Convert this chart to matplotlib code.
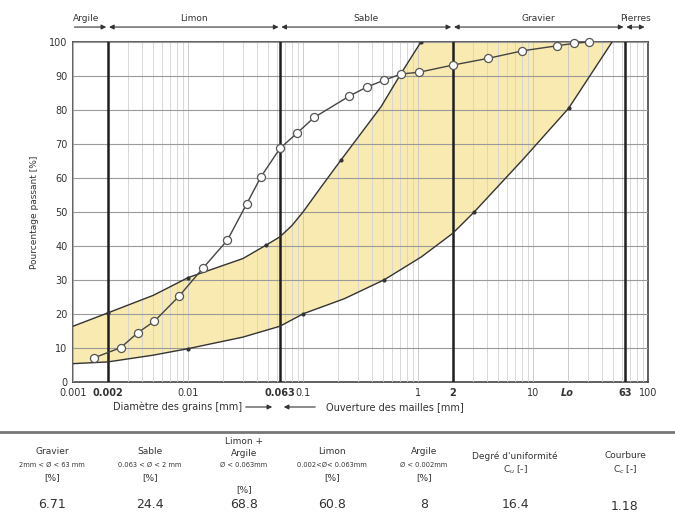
import matplotlib
matplotlib.use("Agg")
import matplotlib.pyplot as plt
from matplotlib.transforms import blended_transform_factory
from matplotlib.ticker import LogLocator
import numpy as np

# ---------------- data ----------------
sample_d = [0.00152, 0.0026, 0.00366, 0.00511, 0.00834, 0.0135, 0.022, 0.0323,
            0.043, 0.063, 0.088, 0.125, 0.253, 0.361, 0.511, 0.714, 1.02, 2.0,
            4.08, 8.09, 16.3, 22.7, 30.5]
sample_p = [7.1, 10.1, 14.5, 17.9, 25.2, 33.5, 41.7, 52.3, 60.3, 68.7, 73.1,
            77.8, 84.1, 86.8, 88.8, 90.6, 91.1, 93.2, 95.2, 97.4, 98.9, 99.6, 100]

upper_d = [0.001, 0.002, 0.005, 0.01, 0.03, 0.048, 0.063, 0.08, 0.1, 0.144,
           0.214, 0.478, 0.714, 1.06]
upper_p = [16.4, 20.3, 25.5, 30.7, 36.3, 40.3, 42.7, 46.0, 50.0, 57.4, 65.3,
           81.0, 90.8, 100]
upper_mark_d = [0.002, 0.01, 0.048, 0.214, 1.06]
upper_mark_p = [20.3, 30.7, 40.3, 65.3, 100]

lower_d = [0.001, 0.002, 0.005, 0.01, 0.03, 0.063, 0.101, 0.229, 0.511, 1.07,
           2.0, 3.08, 8.15, 20.4, 48.7]
lower_p = [5.4, 5.9, 7.9, 9.8, 13.2, 16.4, 20.1, 24.5, 30.1, 36.8, 43.7, 50.0,
           65.4, 80.5, 100]
lower_mark_d = [0.01, 0.101, 0.511, 3.08, 20.4]
lower_mark_p = [9.8, 20.1, 30.1, 50.0, 80.5]

limits = [0.002, 0.063, 2, 63]
tick_vals = [0.001, 0.002, 0.01, 0.063, 0.1, 1, 2, 10, 20, 63, 100]
tick_labels = ["0.001", "0.002", "0.01", "0.063", "0.1", "1", "2", "10", "Lo", "63", "100"]
bold_ticks = ["0.002", "0.063", "2", "63", "Lo"]

bands = ["Argile", "Limon", "Sable", "Gravier", "Pierres"]
band_edges = [0.001, 0.002, 0.063, 2, 63, 96]

col_head = ["Gravier", "Sable", "Limon +\nArgile", "Limon", "Argile",
            "Degré d'uniformité", "Courbure"]
col_sub = ["2mm < Ø < 63 mm", "0.063 < Ø < 2 mm", "Ø < 0.063mm",
           "0.002<Ø< 0.063mm", "Ø < 0.002mm", "C$_u$ [-]", "C$_c$ [-]"]
col_vals = ["6.71", "24.4", "68.8", "60.8", "8", "16.4", "1.18"]

# ---------------- figure ----------------
W, H = 675, 514
fig = plt.figure(figsize=(W / 100, H / 100), dpi=100)
fig.patch.set_facecolor("white")

def fx(px):
    return px / W

def fy(py):
    return 1 - py / H

TXT = "#333333"

ax = fig.add_axes([fx(73), fy(382), fx(648) - fx(73), fy(42) - fy(382)])
ax.set_xscale("log")
ax.set_xlim(0.001, 100)
ax.set_ylim(0, 100)

# band fill
poly_x = list(upper_d) + [lower_d[-1]] + list(lower_d[::-1])
poly_y = list(upper_p) + [lower_p[-1]] + list(lower_p[::-1])
ax.fill(poly_x, poly_y, color="#f8e8a8", alpha=0.9, zorder=1, lw=0)

# grid
ax.set_yticks(np.arange(0, 101, 10))
ax.grid(True, which="major", axis="y", color="#9a9a9a", lw=0.8, zorder=2)
ax.grid(True, which="major", axis="x", color="#c4c4c4", lw=0.6, zorder=2)
ax.set_axisbelow(False)

for d in limits:
    ax.axvline(d, color="#1e1e1e", lw=1.8, zorder=4)

# envelope curves
ax.plot(upper_d, upper_p, color="#333333", lw=1.0, zorder=5)
ax.plot(lower_d, lower_p, color="#333333", lw=1.0, zorder=5)
ax.plot(upper_mark_d, upper_mark_p, "o", color="#333333", ms=2, zorder=5)
ax.plot(lower_mark_d, lower_mark_p, "o", color="#333333", ms=2, zorder=5)

# sample curve
ax.plot(sample_d, sample_p, color="#444444", lw=1.0, marker="o", ms=5.8,
        mfc="white", mec="#555555", mew=0.9, zorder=6, clip_on=False)

# axes styling
for s in ax.spines.values():
    s.set_color("#444444")
    s.set_linewidth(1.2)
ax.tick_params(axis="both", which="both", length=0, labelsize=7,
               labelcolor=TXT, pad=4)
ax.set_xticks(tick_vals)
ax.set_xticklabels(tick_labels)
for lab in ax.get_xticklabels():
    if lab.get_text() in bold_ticks:
        lab.set_fontweight("bold")
    if lab.get_text() == "Lo":
        lab.set_fontstyle("italic")
ax.xaxis.set_minor_locator(LogLocator(base=10, subs=np.arange(2, 10)))
ax.tick_params(axis="x", which="minor", length=0, labelbottom=False)
ax.grid(True, which="minor", axis="x", color="#d2d2d2", lw=0.6, zorder=2)

ax.set_ylabel("Pourcentage passant [%]", fontsize=6.5, color=TXT, labelpad=7)

# top classification arrows
tr = blended_transform_factory(ax.transData, ax.transAxes)
ya = 1.044
for i, name in enumerate(bands):
    a, b = band_edges[i], band_edges[i + 1]
    style = "-|>" if i == 0 else "<|-|>"
    ax.annotate("", xy=(b, ya), xytext=(a, ya), xycoords=tr, textcoords=tr,
                arrowprops=dict(arrowstyle=style, color="#333333", lw=0.8,
                                mutation_scale=7, shrinkA=1, shrinkB=1),
                annotation_clip=False)
    xm = 10 ** ((np.log10(a) + np.log10(b)) / 2)
    if i == 0:
        xm = 0.0013
    ax.text(xm, 1.07, name, transform=tr, ha="center", va="center",
            fontsize=6.5, color=TXT)

# x label with arrows
fig.text(fx(178), fy(407), "Diamètre des grains [mm]", ha="center", va="center",
         fontsize=7, color=TXT)
fig.text(fx(395), fy(407), "Ouverture des mailles [mm]", ha="center", va="center",
         fontsize=7, color=TXT)
fig.add_artist(matplotlib.patches.FancyArrowPatch(
    (fx(243), fy(407)), (fx(275), fy(407)), transform=fig.transFigure,
    arrowstyle="-|>", mutation_scale=7, color="#333333", lw=0.8))
fig.add_artist(matplotlib.patches.FancyArrowPatch(
    (fx(318), fy(407)), (fx(281), fy(407)), transform=fig.transFigure,
    arrowstyle="-|>", mutation_scale=7, color="#333333", lw=0.8))

# table separator
fig.add_artist(matplotlib.lines.Line2D([0, 1], [fy(432), fy(432)],
                                       transform=fig.transFigure,
                                       color="#777777", lw=2.0))

col_x = [52, 150, 244, 332, 424, 515, 625]
for i in range(7):
    x = fx(col_x[i])
    if i in (0, 1, 3, 4):
        fig.text(x, fy(452), col_head[i], ha="center", va="center", fontsize=6.5, color=TXT)
        fig.text(x, fy(465), col_sub[i], ha="center", va="center", fontsize=4.8, color=TXT)
        fig.text(x, fy(478), "[%]", ha="center", va="center", fontsize=6.5, color=TXT)
        fig.text(x, fy(504), col_vals[i], ha="center", va="center", fontsize=9, color=TXT)
    elif i == 2:
        fig.text(x, fy(441), "Limon +", ha="center", va="center", fontsize=6.5, color=TXT)
        fig.text(x, fy(453), "Argile", ha="center", va="center", fontsize=6.5, color=TXT)
        fig.text(x, fy(465), col_sub[i], ha="center", va="center", fontsize=4.8, color=TXT)
        fig.text(x, fy(490), "[%]", ha="center", va="center", fontsize=6.5, color=TXT)
        fig.text(x, fy(504), col_vals[i], ha="center", va="center", fontsize=9, color=TXT)
    else:
        fig.text(x, fy(456), col_head[i], ha="center", va="center", fontsize=6.5, color=TXT)
        fig.text(x, fy(470), col_sub[i], ha="center", va="center", fontsize=6.5, color=TXT)
        yv = 504 if i == 5 else 507
        fig.text(x, fy(yv), col_vals[i], ha="center", va="center", fontsize=9, color=TXT)

fig.savefig("out.png", dpi=100)
